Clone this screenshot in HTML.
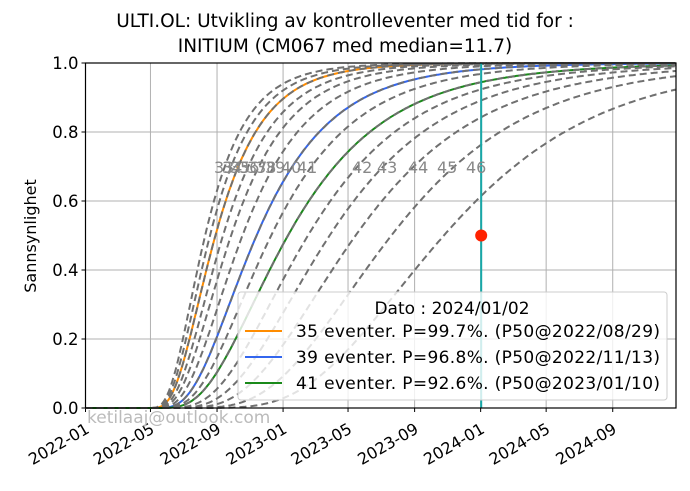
<!DOCTYPE html>
<html><head><meta charset="utf-8"><style>
body{margin:0;background:#fff;font-family:"Liberation Sans","DejaVu Sans",sans-serif}
svg text{font-family:"DejaVu Sans","Liberation Sans",sans-serif}
</style></head><body>
<svg id="c" width="690" height="486" viewBox="0 0 690 486" xmlns="http://www.w3.org/2000/svg">
<text x="345" y="27" text-anchor="middle" font-size="18.5">ULTI.OL: Utvikling av kontrolleventer med tid for :</text>
<text x="345" y="52" text-anchor="middle" font-size="18.5">INITIUM (CM067 med median=11.7)</text>
<text transform="translate(36,236) rotate(-90)" text-anchor="middle" font-size="16">Sannsynlighet</text>
<g id="grid"></g>
<g id="ticks"></g>
<g id="curves"></g>
<g id="labels"></g>
<text x="87" y="423" font-size="17" fill="#bbb">ketilaaj@outlook.com</text>
<g>
<rect x="238" y="292" width="429" height="108" rx="3" fill="#fff" fill-opacity="0.8" stroke="#ccc"/>
<text x="452" y="314" text-anchor="middle" font-size="17">Dato : 2024/01/02</text>
<line x1="245" y1="331" x2="282" y2="331" stroke="#ff8c00" stroke-width="2"/>
<text x="296" y="337" font-size="17" textLength="364">35 eventer. P=99.7%. (P50@2022/08/29)</text>
<line x1="245" y1="357" x2="282" y2="357" stroke="#3366ee" stroke-width="2"/>
<text x="296" y="363" font-size="17" textLength="364">39 eventer. P=96.8%. (P50@2022/11/13)</text>
<line x1="245" y1="383" x2="282" y2="383" stroke="#1a8a1a" stroke-width="2"/>
<text x="296" y="389" font-size="17" textLength="364">41 eventer. P=92.6%. (P50@2023/01/10)</text>
</g>
<rect x="85.5" y="63" width="590.5" height="345" fill="none" stroke="#000" stroke-width="1.2"/>
</svg>
<script>
const curveIds=[33,34,35,36,37,38,39,40,41,42,43,44,45,46];
const curveMedians=["2022-08-10","2022-08-19","2022-08-29","2022-09-12","2022-09-27","2022-10-18","2022-11-13","2022-12-10","2023-01-10","2023-02-16","2023-03-28","2023-05-15","2023-07-20","2023-10-25"];
const curveSigmas=[0.52,0.52,0.52,0.52,0.52,0.52,0.52,0.52,0.53,0.5,0.48,0.46,0.43,0.40];
const highlightIds=[35,39,41];
const highlightColors=["#ff8c00","#3366ee","#1a8a1a"];
const xTickLabels=["2022-01","2022-05","2022-09","2023-01","2023-05","2023-09","2024-01","2024-05","2024-09"];
const yTickValues=[0,0.2,0.4,0.6,0.8,1.0];
const labelTexts=["33","34","35","36","37","38","39","40","41","42","43","44","45","46"];
const labelX=[214,222,230,239,247,256,265,281,297,352,377,408,437,466];
const todayDate="2024-01-02";
const todayValue=0.5;
const curveStart="2022-04-16";
const NS="http://www.w3.org/2000/svg";
const D0=Date.UTC(2022,0,1), L=85.5,R=676,T=63,B=408,pxPerDay=0.5413;
function day(s){const p=s.split("-");return (Date.UTC(+p[0],+p[1]-1,+(p[2]||1))-D0)/864e5;}
function X(d){return L+d*pxPerDay;}
function Y(v){return B-v*(B-T);}
function el(t,a,p){const e=document.createElementNS(NS,t);for(const k in a)e.setAttribute(k,a[k]);p.appendChild(e);return e;}
function erf(x){const s=x<0?-1:1;x=Math.abs(x);const t=1/(1+0.3275911*x);const y=1-(((((1.061405429*t-1.453152027)*t)+1.421413741)*t-0.284496736)*t+0.254829592)*t*Math.exp(-x*x);return s*y;}
const grid=document.getElementById('grid'),ticks=document.getElementById('ticks');
xTickLabels.forEach(s=>{const x=X(day(s));
 const g=el('line',{x1:x,x2:x,y1:T,y2:B,stroke:'#b0b0b0','stroke-width':1},grid);
 
 
 el('line',{x1:x,x2:x,y1:B,y2:B+4,stroke:'#000'},ticks);
 const t=el('text',{transform:`translate(${x+5},${B+24}) rotate(-30)`,'text-anchor':'end','font-size':16},ticks);
 
 
 t.textContent=s;});
yTickValues.forEach(v=>{const y=Y(v);
 const g=el('line',{x1:L,x2:R,y1:y,y2:y,stroke:'#b0b0b0','stroke-width':1},grid);
 
 
 el('line',{x1:L-4,x2:L,y1:y,y2:y,stroke:'#000'},ticks);
 const t=el('text',{x:L-7,y:y+6,'text-anchor':'end','font-size':16.5},ticks);
 
 
 t.textContent=v.toFixed(1);});
const cg=document.getElementById('curves');
const t0=day(curveStart), endD=(R-L)/pxPerDay;
function pathFor(med,sig){const m=day(med)-t0;let d="M"+X(0)+","+Y(0);
 for(let dd=t0+1;dd<=endD;dd+=3){const z=(Math.log(dd-t0)-Math.log(m))/sig;const v=0.5*(1+erf(z/Math.SQRT2));d+=" L"+X(dd).toFixed(1)+","+Y(v).toFixed(1);}return d;}
highlightIds.forEach((id,i)=>{const k=curveIds.indexOf(id);const p=el('path',{d:pathFor(curveMedians[k],curveSigmas[k]),fill:'none',stroke:highlightColors[i],'stroke-width':2},cg);
 
 });
curveIds.forEach((id,i)=>{const p=el('path',{d:pathFor(curveMedians[i],curveSigmas[i]),fill:'none',stroke:'#707070','stroke-width':2,'stroke-dasharray':'7,4'},cg);
 
 });
const tx=X(day(todayDate));
const vl=el('line',{x1:tx,x2:tx,y1:T,y2:B,stroke:'#17a8a8','stroke-width':2},cg);


const dot=el('circle',{cx:tx,cy:Y(todayValue),r:6,fill:'#ff2200'},cg);


const lg=document.getElementById('labels');
labelTexts.forEach((s,i)=>{const t=el('text',{x:labelX[i],y:173,'font-size':16,fill:'#888'},lg);
 
 
 t.textContent=s;});
</script>
</body></html>
